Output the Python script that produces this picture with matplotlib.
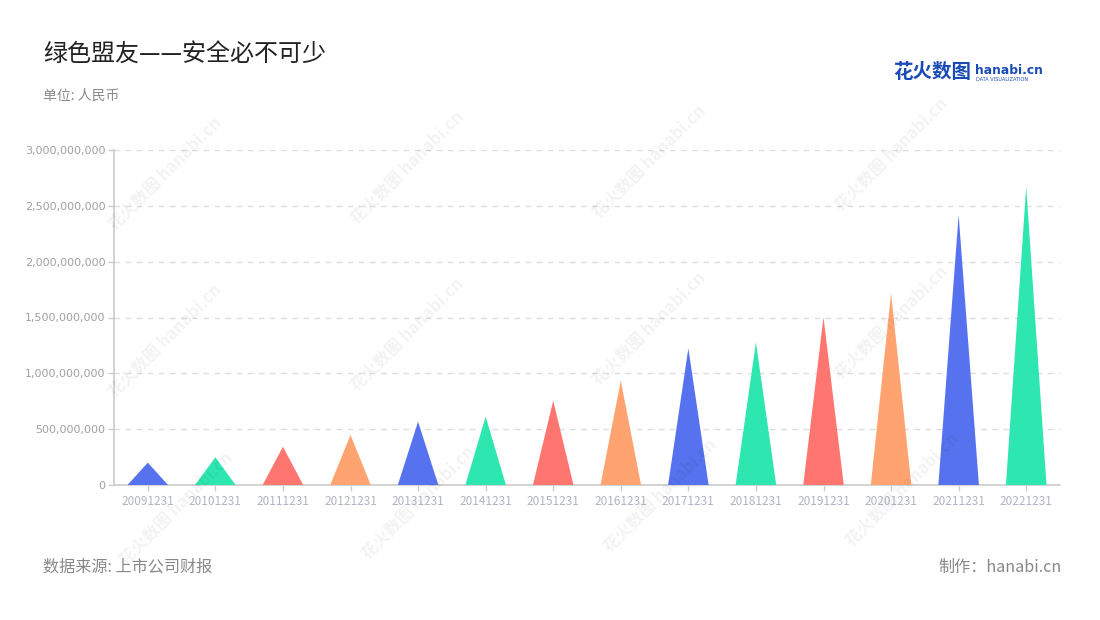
import matplotlib
matplotlib.use("Agg")
import matplotlib.pyplot as plt
from matplotlib.ticker import FuncFormatter, MultipleLocator

plt.rcParams['font.family'] = ['Noto Sans CJK SC', 'DejaVu Sans']

categories = ["20091231", "20101231", "20111231", "20121231", "20131231", "20141231", "20151231",
              "20161231", "20171231", "20181231", "20191231", "20201231", "20211231", "20221231"]
values = [200e6, 248e6, 343e6, 448e6, 567e6, 612e6, 755e6,
          934e6, 1224e6, 1278e6, 1502e6, 1717e6, 2418e6, 2671e6]
palette = ['#5772EE', '#2DE6B0', '#FF7570', '#FFA370']

title = "绿色盟友——安全必不可少"
subtitle = "单位: 人民币"
source = "数据来源: 上市公司财报"
credit = "制作：hanabi.cn"

fig = plt.figure(figsize=(11, 6.2), dpi=100)
fig.patch.set_facecolor('white')

ax = fig.add_axes([114/1100, 135/620, (1060-114)/1100, 335/620])
ax.set_facecolor('none')

half = 0.3
for i, v in enumerate(values):
    ax.fill([i - half, i, i + half], [0, v, 0], color=palette[i % 4], lw=0, zorder=3)

ax.set_xlim(-0.5, len(categories) - 0.5)
ax.set_ylim(0, 3e9)
ax.yaxis.set_major_locator(MultipleLocator(5e8))
ax.yaxis.set_major_formatter(FuncFormatter(lambda v, p: f"{int(v):,}"))
ax.set_xticks(range(len(categories)))
ax.set_xticklabels(categories)

ax.grid(axis='y', color='#dddddd', linestyle=(0, (4, 4)), lw=1, zorder=0)
for s in ['top', 'right']:
    ax.spines[s].set_visible(False)
for s in ['left', 'bottom']:
    ax.spines[s].set_color('#cccccc')
    ax.spines[s].set_linewidth(1.2)
ax.tick_params(axis='y', colors='#cccccc', labelcolor='#a0a0a0', labelsize=8.5, length=4, width=1, pad=2)
ax.tick_params(axis='x', colors='#cccccc', labelcolor='#b0b4c0', labelsize=8.5, length=4, width=1, pad=3)
for lbl in ax.get_yticklabels():
    lbl.set_family(['DejaVu Sans'])
    lbl.set_fontsize(8)

# watermarks (faint, drawn over everything like the reference)
wm_pos = [(0.15, 0.72), (0.37, 0.73), (0.59, 0.74), (0.81, 0.75),
          (0.15, 0.45), (0.37, 0.46), (0.59, 0.47), (0.81, 0.48),
          (0.16, 0.18), (0.38, 0.19), (0.60, 0.20), (0.82, 0.21)]
for (wx, wy) in wm_pos:
    fig.text(wx, wy, "花火数图 hanabi.cn", rotation=45, color='#000000', alpha=0.05, fontsize=12,
             fontweight='bold', ha='center', va='center')

fig.text(43/1100, 1 - 55/620, title, fontsize=17.3, color='#222222', ha='left', va='center')
fig.text(43/1100, 1 - 96/620, subtitle, fontsize=10, color='#8a8a8a', ha='left', va='center')
fig.text(43/1100, 1 - 567/620, source, fontsize=11.6, color='#888888', ha='left', va='center')
fig.text(1062/1100, 1 - 567/620, credit, fontsize=11.6, color='#888888', ha='right', va='center')

# logo
fig.text(893/1100, 1 - 73/620, "花火数图", fontsize=14, color='#1a4bb5', fontweight='bold',
         ha='left', va='center')
fig.text(975/1100, 1 - 70/620, "hanabi.cn", fontsize=8.8, color='#1a4bb5', fontweight='bold',
         ha='left', va='center', family=['DejaVu Sans'])
fig.text(976/1100, 1 - 79.5/620, "DATA VISUALIZATION", fontsize=3.6, color='#1a4bb5',
         ha='left', va='center', family=['DejaVu Sans'])

fig.savefig("out.png", dpi=100, facecolor='white')
